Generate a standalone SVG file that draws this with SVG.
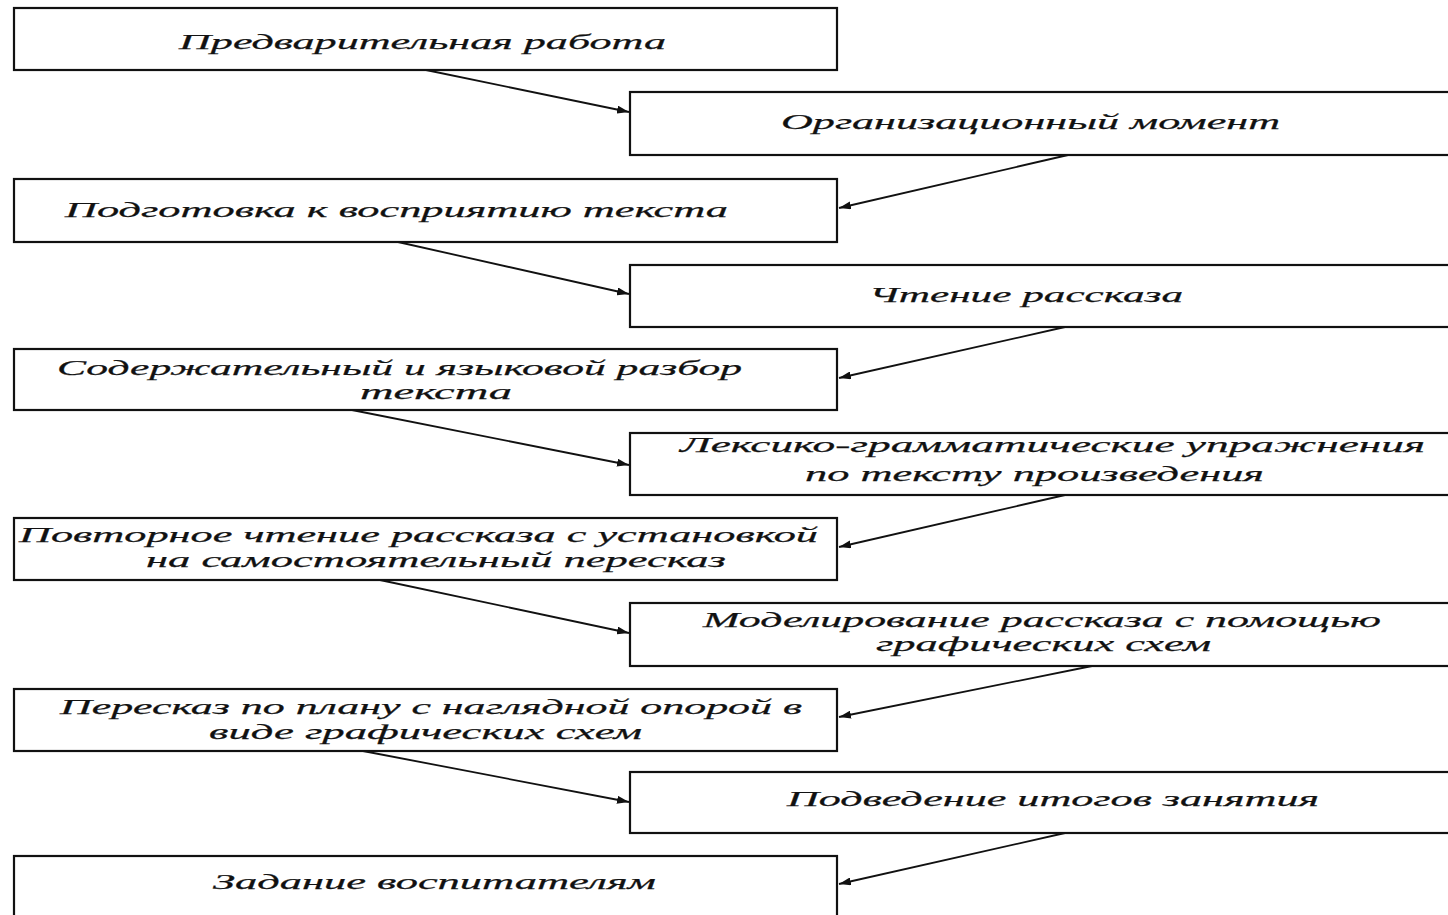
<svg xmlns="http://www.w3.org/2000/svg" width="1448" height="915" viewBox="0 0 1448 915">
<defs>
<style>
.box{fill:#ffffff;stroke:#111;stroke-width:2.2}
.t{font-family:"Liberation Serif","DejaVu Serif",serif;font-style:italic;font-size:22px;fill:#111;stroke:#111;stroke-width:0.25}
.c{stroke:#111;stroke-width:1.8;fill:none;marker-end:url(#ah)}
</style>
<marker id="ah" viewBox="0 0 12 8" refX="12" refY="4" markerWidth="12" markerHeight="8" markerUnits="userSpaceOnUse" orient="auto">
<path d="M0,0 L12,4 L0,8 Z" fill="#111"/>
</marker>
</defs>
<rect width="1448" height="915" fill="#ffffff"/>
<g id="connectors">
<line class="c" x1="426" y1="70" x2="629" y2="112"/>
<line class="c" x1="1068" y1="155" x2="839" y2="208"/>
<line class="c" x1="398" y1="242" x2="629" y2="294"/>
<line class="c" x1="1065" y1="327" x2="839" y2="378"/>
<line class="c" x1="352" y1="410" x2="629" y2="465"/>
<line class="c" x1="1065" y1="495" x2="839" y2="547"/>
<line class="c" x1="380" y1="580" x2="629" y2="633"/>
<line class="c" x1="1092" y1="666" x2="839" y2="717"/>
<line class="c" x1="363" y1="751" x2="629" y2="802"/>
<line class="c" x1="1065" y1="833" x2="839" y2="884"/>
</g>
<g id="n1"><rect class="box" x="14" y="8" width="823" height="62"/>
<text class="t" x="179" y="49" textLength="487" lengthAdjust="spacingAndGlyphs">Предварительная работа</text></g>
<g id="n2"><rect class="box" x="630" y="92" width="830" height="63"/>
<text class="t" x="781" y="129" textLength="499" lengthAdjust="spacingAndGlyphs">Организационный момент</text></g>
<g id="n3"><rect class="box" x="14" y="179" width="823" height="63"/>
<text class="t" x="65" y="217" textLength="663" lengthAdjust="spacingAndGlyphs">Подготовка к восприятию текста</text></g>
<g id="n4"><rect class="box" x="630" y="265" width="830" height="62"/>
<text class="t" x="869" y="302" textLength="314" lengthAdjust="spacingAndGlyphs">Чтение рассказа</text></g>
<g id="n5"><rect class="box" x="14" y="349" width="823" height="61"/>
<text class="t" x="57" y="375" textLength="685" lengthAdjust="spacingAndGlyphs">Содержательный и языковой разбор</text>
<text class="t" x="360" y="399" textLength="152" lengthAdjust="spacingAndGlyphs">текста</text></g>
<g id="n6"><rect class="box" x="630" y="433" width="830" height="62"/>
<text class="t" x="680" y="452" textLength="745" lengthAdjust="spacingAndGlyphs">Лексико-грамматические упражнения</text>
<text class="t" x="805" y="481" textLength="459" lengthAdjust="spacingAndGlyphs">по тексту произведения</text></g>
<g id="n7"><rect class="box" x="14" y="518" width="823" height="62"/>
<text class="t" x="19" y="542" textLength="799" lengthAdjust="spacingAndGlyphs" font-size="21">Повторное чтение рассказа с установкой</text>
<text class="t" x="146" y="567" textLength="580" lengthAdjust="spacingAndGlyphs" font-size="21">на самостоятельный пересказ</text></g>
<g id="n8"><rect class="box" x="630" y="603" width="830" height="63"/>
<text class="t" x="703" y="627" textLength="678" lengthAdjust="spacingAndGlyphs">Моделирование  рассказа с помощью</text>
<text class="t" x="876" y="651" textLength="335" lengthAdjust="spacingAndGlyphs">графических схем</text></g>
<g id="n9"><rect class="box" x="14" y="689" width="823" height="62"/>
<text class="t" x="60" y="714" textLength="742" lengthAdjust="spacingAndGlyphs">Пересказ по плану с наглядной опорой в</text>
<text class="t" x="209" y="739" textLength="433" lengthAdjust="spacingAndGlyphs">виде графических схем</text></g>
<g id="n10"><rect class="box" x="630" y="772" width="830" height="61"/>
<text class="t" x="787" y="806" textLength="532" lengthAdjust="spacingAndGlyphs">Подведение итогов занятия</text></g>
<g id="n11"><rect class="box" x="14" y="856" width="823" height="80"/>
<text class="t" x="213" y="889" textLength="443" lengthAdjust="spacingAndGlyphs">Задание воспитателям</text></g>
</svg>
